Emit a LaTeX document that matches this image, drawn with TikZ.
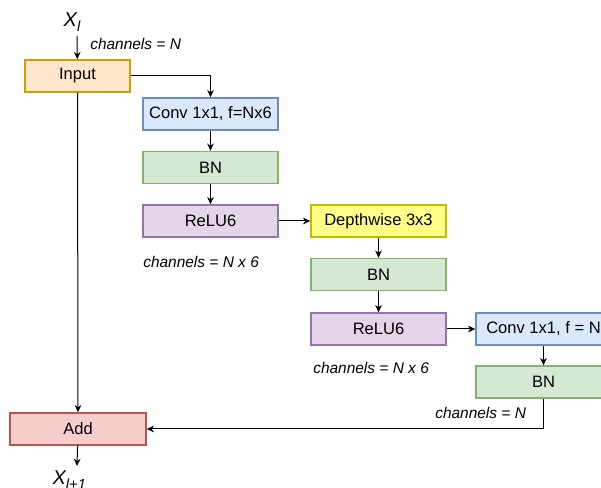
\documentclass[tikz,border=0pt]{standalone}
\usepackage{fontspec}
\setmainfont{Liberation Sans}
\usetikzlibrary{ arrows.meta, % For the arrow tips
                 positioning,
               }
\definecolor{inputfill}{HTML}{FFE6CC} \definecolor{inputline}{HTML}{D79B00}
\definecolor{convfill}{HTML}{DAE8FC}  \definecolor{convline}{HTML}{6C8EBF}
\definecolor{bnfill}{HTML}{D5E8D4}    \definecolor{bnline}{HTML}{82B366}
\definecolor{relufill}{HTML}{E1D5E7}  \definecolor{reluline}{HTML}{9673A6}
\definecolor{dwfill}{HTML}{FFFF88}    \definecolor{dwline}{HTML}{BDBD00}
\definecolor{addfill}{HTML}{F8CECC}   \definecolor{addline}{HTML}{B85450}
\newcommand{\boxfont}{\fontsize{12.4}{15}\selectfont}
\newcommand{\chanfont}{\fontsize{11.6}{14}\selectfont\itshape}
\newcommand{\xfont}{\fontsize{15}{18}\selectfont\itshape}
% subscript of the X labels, larger than the default
\newcommand{\xsub}[1]{\raisebox{-3.5pt}{\fontsize{11}{12}\selectfont\itshape #1}}
\tikzstyle{block} = [rectangle, minimum width=101.25pt, minimum height=24pt, inner sep=0pt, line width=1.1pt, font=\boxfont]
\tikzstyle{inputbox} = [block, fill=inputfill, draw=inputline, minimum width=78.75pt]
\tikzstyle{convbox} = [block, fill=convfill, draw=convline]
\tikzstyle{bnbox} = [block, fill=bnfill, draw=bnline]
\tikzstyle{relubox} = [block, fill=relufill, draw=reluline]
\tikzstyle{dwbox} = [block, fill=dwfill, draw=dwline]
\tikzstyle{addbox} = [block, fill=addfill, draw=addline, minimum width=102pt]
\tikzstyle{chan} = [anchor=west, inner sep=0pt, font=\chanfont]
\tikzstyle{xlabel} = [inner sep=1pt, font=\xfont]
\tikzstyle{flow} = [-{Stealth[length=5.5pt,width=5pt]}, line width=0.75pt]

\begin{document}
\begin{tikzpicture}[x=0.75pt, y=-0.75pt]
  \useasboundingbox (0,0) rectangle (601,488);

  \node (xin) [xlabel] at (72,22) {X\xsub{l}};
  \coordinate (xinend) at (77,36);
  \node (c1) [chan] at (90,44) {channels = N};
  \node (input) [inputbox] at (77.5,76) {Input};

  \node (conv1) [convbox] at (210.5,114) {Conv 1x1, f=Nx6};
  \node (bn1) [bnbox] at (210.5,167.5) {BN};
  \node (relu1) [relubox] at (210.5,221) {ReLU6};
  \node (c2) [chan] at (143,262) {channels = N x 6};

  \node (dw) [dwbox] at (378.5,221) {Depthwise 3x3};
  \node (bn2) [bnbox] at (378.5,274.5) {BN};
  \node (relu2) [relubox] at (378.5,329) {ReLU6};
  \node (c3) [chan] at (313,368) {channels = N x 6};

  \node (conv2) [convbox] at (543.5,329) {Conv 1x1, f = N};
  \node (bn3) [bnbox] at (543.5,382) {BN};
  \node (c4) [chan] at (435,413) {channels = N};

  \node (add) [addbox] at (78,429) {Add};
  \coordinate (xoutend) at (77,466);
  \node (xout) [xlabel, anchor=west] at (51,480) {X\xsub{l+1}};

  \draw [flow] (xinend) -- (input);
  \draw [flow] (input.east) -| (conv1.north);
  \draw [flow] (conv1) -- (bn1);
  \draw [flow] (bn1) -- (relu1);
  \draw [flow] (relu1) -- (dw);
  \draw [flow] (dw) -- (bn2);
  \draw [flow] (bn2) -- (relu2);
  \draw [flow] (relu2) -- (conv2);
  \draw [flow] (conv2) -- (bn3);
  \draw [flow] (bn3.south) |- (add.east);
  \draw [flow] (input.south) -- (add.north);
  \draw [flow] (add) -- (xoutend);

\end{tikzpicture}
\end{document}
